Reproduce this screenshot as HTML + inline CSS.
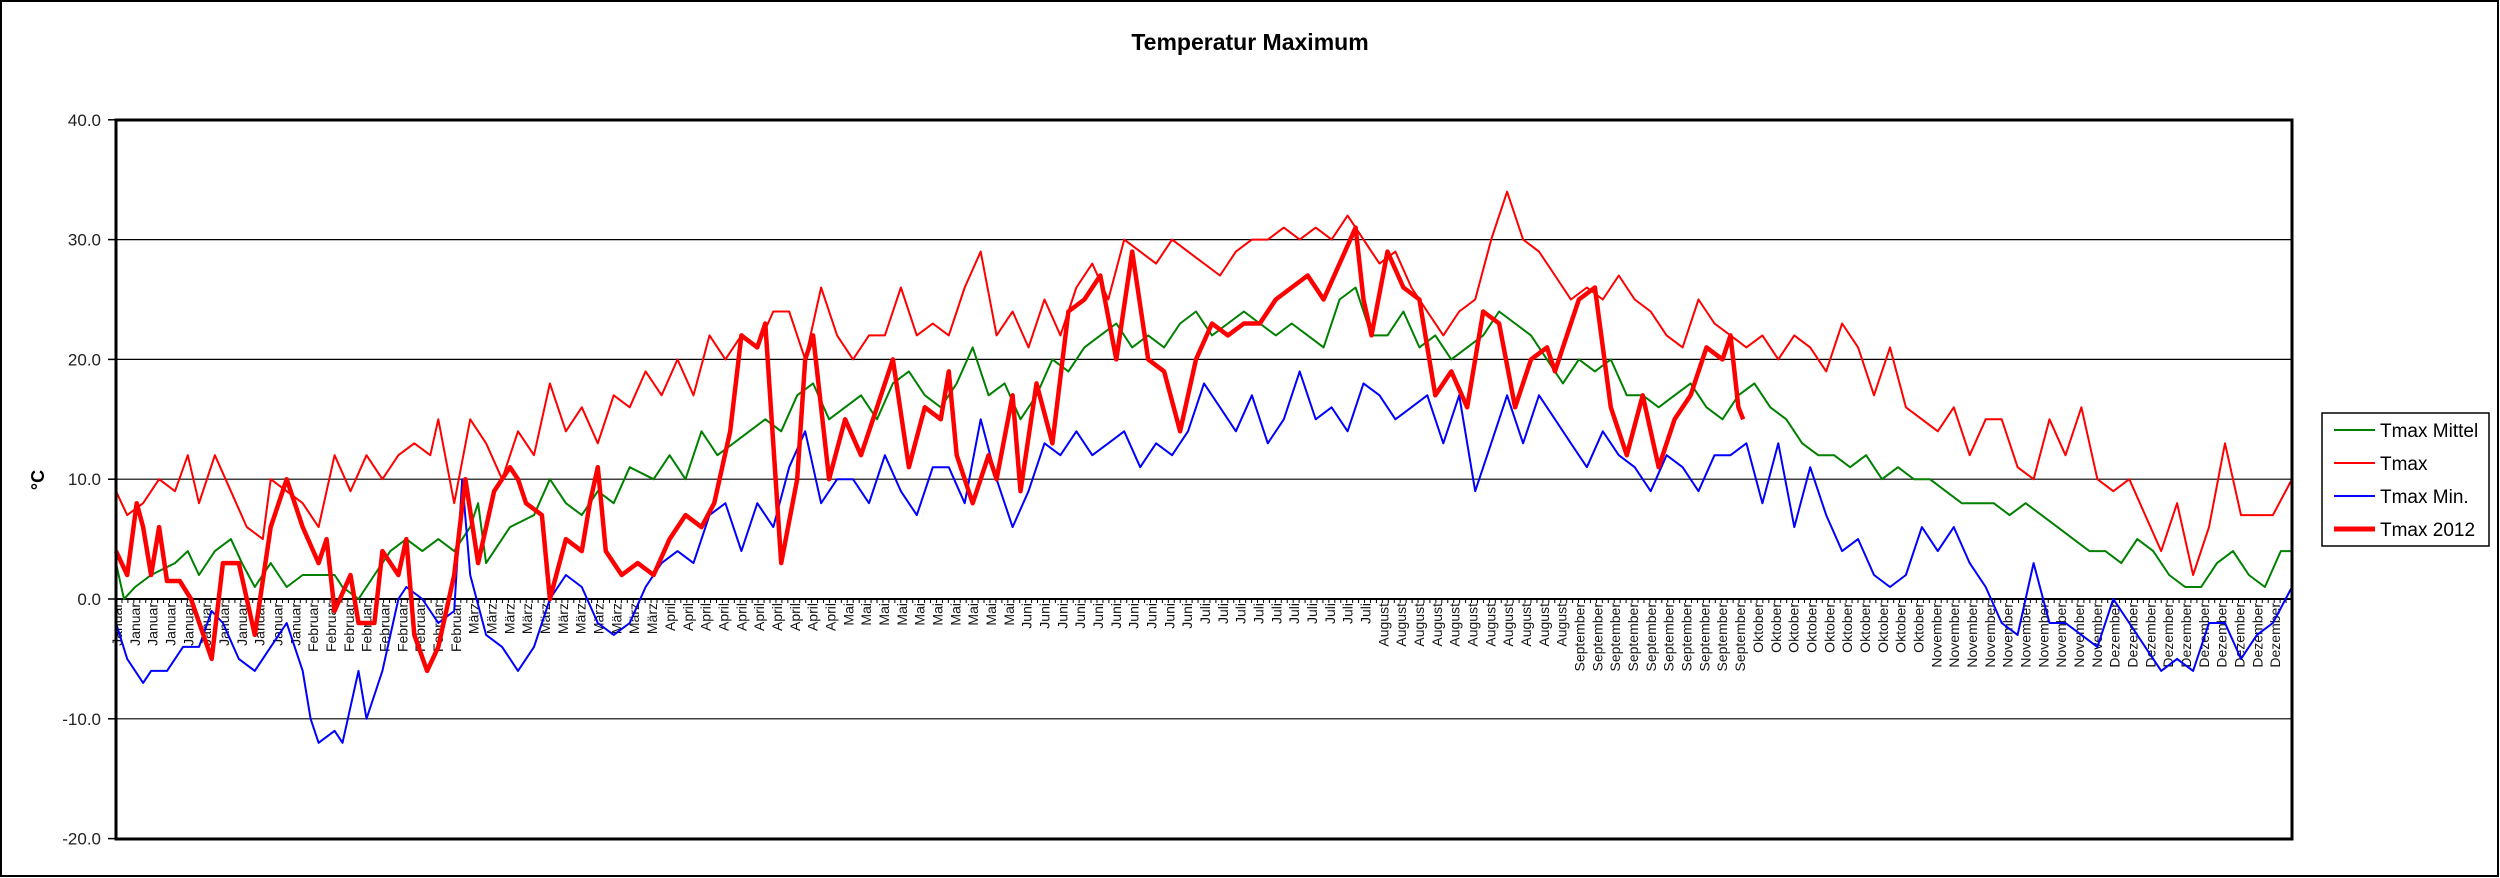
<!DOCTYPE html>
<html><head><meta charset="utf-8"><style>
html,body{margin:0;padding:0;background:#fff}
svg{display:block}
text{font-family:"Liberation Sans",Arial,sans-serif}
</style></head><body>
<svg id="s" width="2500" height="878" xmlns="http://www.w3.org/2000/svg">
<rect x="1" y="1" width="2497" height="875" fill="#fff" stroke="#000" stroke-width="2"/>
<text x="1250" y="50" text-anchor="middle" font-size="23" font-weight="bold">Temperatur Maximum</text>
<text x="44" y="480" text-anchor="middle" font-size="18" font-weight="bold" transform="rotate(-90 44 480)">°C</text>
<g id="g"></g>
<rect x="2322" y="413" width="167" height="133" fill="#fff" stroke="#000" stroke-width="1.5"/>
<line x1="2334" y1="430" x2="2375" y2="430" stroke="#008000" stroke-width="2"/>
<text x="2380" y="437" font-size="19">Tmax Mittel</text>
<line x1="2334" y1="463" x2="2375" y2="463" stroke="#ff0000" stroke-width="2"/>
<text x="2380" y="470" font-size="19">Tmax</text>
<line x1="2334" y1="496" x2="2375" y2="496" stroke="#0000ff" stroke-width="2"/>
<text x="2380" y="503" font-size="19">Tmax Min.</text>
<line x1="2334" y1="529" x2="2375" y2="529" stroke="#ff0000" stroke-width="5"/>
<text x="2380" y="536" font-size="19">Tmax 2012</text>
</svg>
<script>
var L=116,R=2292,T=120,B=839;
function Y(t){return 599-t*11.98;}
function X(dx){return L+(dx-73)*(R-L)/1364;}
var g=document.getElementById('g'),h='';
[30,20,10,-10].forEach(function(t){h+='<line x1="'+L+'" x2="'+R+'" y1="'+Y(t)+'" y2="'+Y(t)+'" stroke="#000" stroke-width="1.2"/>';});
[40,30,20,10,0,-10,-20].forEach(function(t){var y=Y(t);h+='<line x1="108" x2="'+L+'" y1="'+y+'" y2="'+y+'" stroke="#000" stroke-width="1.5"/><text x="101" y="'+(y+6)+'" text-anchor="end" font-size="17" fill="#222">'+t.toFixed(1)+'</text>';});
h+='<line x1="'+L+'" x2="'+R+'" y1="'+Y(0)+'" y2="'+Y(0)+'" stroke="#000" stroke-width="2"/>';
for(var d=0;d<=366;d++){var x=L+d*(R-L)/366;h+='<line x1="'+x+'" x2="'+x+'" y1="'+Y(0)+'" y2="'+(Y(0)+4)+'" stroke="#000" stroke-width="1"/>';}
var ml=[31,29,31,30,31,30,31,31,30,31,30,31],mn=['Januar','Februar','März','April','Mai','Juni','Juli','August','September','Oktober','November','Dezember'];
for(var d=0;d<366;d+=3){var m=0,c=d;while(c>=ml[m]){c-=ml[m];m++;}var x=L+d*(R-L)/366+6;var y=Y(0)+4;
h+='<text x="'+x+'" y="'+y+'" font-size="14" text-anchor="end" fill="#111" transform="rotate(-90 '+x+' '+y+')">'+mn[m]+'</text>';}
function ser(a,col,w){var p=[];for(var i=0;i<a.length;i+=2)p.push(X(a[i]).toFixed(1)+','+Y(a[i+1]).toFixed(1));h+='<polyline fill="none" stroke="'+col+'" stroke-width="'+w+'" stroke-linejoin="round" points="'+p.join(' ')+'"/>';}
var green=[73,3,78,0,85,1,95,2,110,3,118,4,125,2,135,4,145,5,152,3,160,1,170,3,180,1,190,2,200,2,210,2,215,1,225,0,235,2,245,4,255,5,265,4,275,5,285,4,295,6,300,8,305,3,320,6,335,7,345,10,355,8,365,7,375,9,385,8,395,11,410,10,420,12,430,10,440,14,450,12,460,13,470,14,480,15,490,14,500,17,510,18,520,15,530,16,540,17,550,15,560,18,570,19,580,17,590,16,600,18,610,21,620,17,630,18,640,15,650,17,660,20,670,19,680,21,690,22,700,23,710,21,720,22,730,21,740,23,750,24,760,22,770,23,780,24,790,23,800,22,810,23,820,22,830,21,840,25,850,26,860,22,870,22,880,24,890,21,900,22,910,20,920,21,930,22,940,24,950,23,960,22,970,20,980,18,990,20,1000,19,1010,20,1020,17,1030,17,1040,16,1050,17,1060,18,1070,16,1080,15,1090,17,1100,18,1110,16,1120,15,1130,13,1140,12,1150,12,1160,11,1170,12,1180,10,1190,11,1200,10,1210,10,1220,9,1230,8,1240,8,1250,8,1260,7,1270,8,1280,7,1290,6,1300,5,1310,4,1320,4,1330,3,1340,5,1350,4,1360,2,1370,1,1380,1,1390,3,1400,4,1410,2,1420,1,1430,4,1437,4];
var red=[73,9,80,7,90,8,100,10,110,9,118,12,125,8,135,12,145,9,155,6,165,5,170,10,180,9,190,8,200,6,210,12,220,9,230,12,240,10,250,12,260,13,270,12,275,15,285,8,295,15,305,13,315,10,325,14,335,12,345,18,355,14,365,16,375,13,385,17,395,16,405,19,415,17,425,20,435,17,445,22,455,20,465,22,475,21,485,24,495,24,505,20,515,26,525,22,535,20,545,22,555,22,565,26,575,22,585,23,595,22,605,26,615,29,625,22,635,24,645,21,655,25,665,22,675,26,685,28,695,25,705,30,715,29,725,28,735,30,745,29,755,28,765,27,775,29,785,30,795,30,805,31,815,30,825,31,835,30,845,32,855,30,865,28,875,29,885,26,895,24,905,22,915,24,925,25,935,30,945,34,955,30,965,29,975,27,985,25,995,26,1005,25,1015,27,1025,25,1035,24,1045,22,1055,21,1065,25,1075,23,1085,22,1095,21,1105,22,1115,20,1125,22,1135,21,1145,19,1155,23,1165,21,1175,17,1185,21,1195,16,1205,15,1215,14,1225,16,1235,12,1245,15,1255,15,1265,11,1275,10,1285,15,1295,12,1305,16,1315,10,1325,9,1335,10,1345,7,1355,4,1365,8,1375,2,1385,6,1395,13,1405,7,1415,7,1425,7,1437,10];
var blue=[73,-2,80,-5,90,-7,95,-6,105,-6,115,-4,125,-4,133,-1,140,-2,150,-5,160,-6,170,-4,180,-2,190,-6,195,-10,200,-12,210,-11,215,-12,220,-9,225,-6,230,-10,240,-6,250,0,255,1,265,0,275,-2,285,-1,290,10,295,2,305,-3,315,-4,325,-6,335,-4,345,0,355,2,365,1,375,-2,385,-3,395,-2,405,1,415,3,425,4,435,3,445,7,455,8,465,4,475,8,485,6,495,11,505,14,515,8,525,10,535,10,545,8,555,12,565,9,575,7,585,11,595,11,605,8,615,15,625,10,635,6,645,9,655,13,665,12,675,14,685,12,695,13,705,14,715,11,725,13,735,12,745,14,755,18,765,16,775,14,785,17,795,13,805,15,815,19,825,15,835,16,845,14,855,18,865,17,875,15,885,16,895,17,905,13,915,17,925,9,935,13,945,17,955,13,965,17,975,15,985,13,995,11,1005,14,1015,12,1025,11,1035,9,1045,12,1055,11,1065,9,1075,12,1085,12,1095,13,1105,8,1115,13,1125,6,1135,11,1145,7,1155,4,1165,5,1175,2,1185,1,1195,2,1205,6,1215,4,1225,6,1235,3,1245,1,1255,-2,1265,-3,1275,3,1285,-2,1295,-2,1305,-3,1315,-4,1325,0,1335,-2,1345,-4,1355,-6,1365,-5,1375,-6,1385,-2,1395,-2,1405,-5,1415,-3,1425,-2,1437,1];
var r12=[73,4,80,2,86,8,90,6,95,2,100,6,105,1.5,113,1.5,120,0,133,-5,140,3,150,3,160,-3,170,6,180,10,190,6,200,3,205,5,210,-1,220,2,225,-2,235,-2,240,4,250,2,255,5,260,-3,268,-6,275,-4,285,2,292,10,300,3,310,9,320,11,325,10,330,8,340,7,345,0,355,5,365,4,370,8,375,11,380,4,390,2,400,3,410,2,420,5,430,7,440,6,448,8,458,14,465,22,475,21,480,23,490,3,500,10,505,20,510,22,520,10,530,15,540,12,550,16,560,20,570,11,580,16,590,15,595,19,600,12,610,8,620,12,625,10,635,17,640,9,650,18,660,13,670,24,680,25,690,27,700,20,710,29,720,20,730,19,740,14,750,20,760,23,770,22,780,23,790,23,800,25,810,26,820,27,830,25,840,28,850,31,855,25,860,22,870,29,880,26,890,25,900,17,910,19,920,16,930,24,940,23,950,16,960,20,970,21,975,19,980,21,990,25,1000,26,1010,16,1020,12,1030,17,1040,11,1050,15,1060,17,1070,21,1080,20,1085,22,1090,16,1093,15];
ser(green,'#008000',2);ser(red,'#ff0000',2);ser(blue,'#0000ff',2);ser(r12,'#ff0000',4.5);
h+='<rect x="'+L+'" y="'+T+'" width="'+(R-L)+'" height="'+(B-T)+'" fill="none" stroke="#000" stroke-width="3"/>';
g.innerHTML=h;
</script>
</body></html>
